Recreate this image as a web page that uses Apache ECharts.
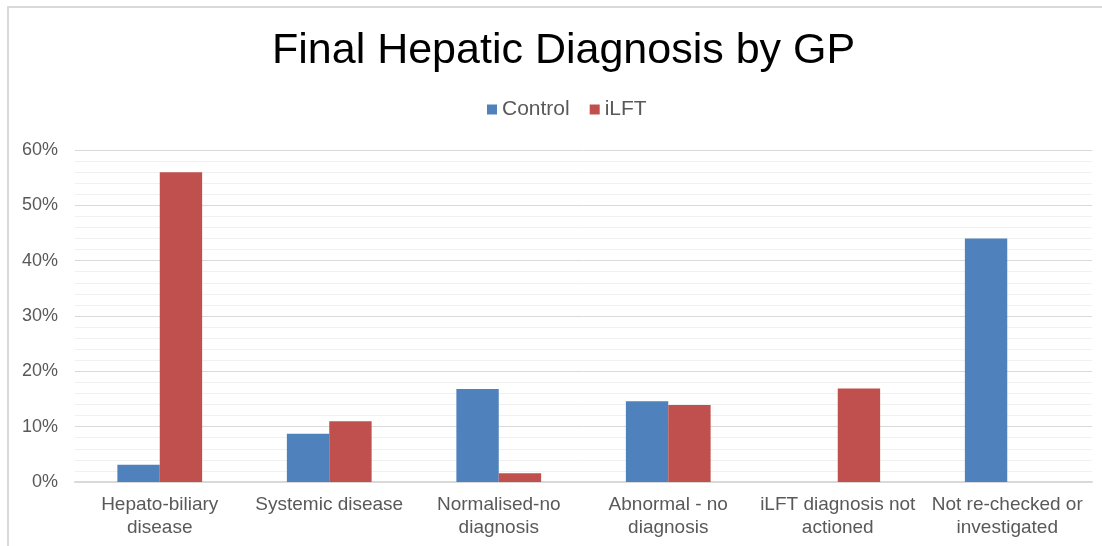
<!DOCTYPE html>
<html>
<head>
<meta charset="utf-8">
<script src="https://cdn.jsdelivr.net/npm/echarts@6/dist/echarts.min.js"></script>
<style>
  html, body { margin: 0; padding: 0; background: #fff; }
  #chart { width: 1102px; height: 546px; }
</style>
</head>
<body>
<div id="chart"></div>
<script>
const categories = [
  'Hepato-biliary\ndisease',
  'Systemic disease',
  'Normalised-no\ndiagnosis',
  'Abnormal - no\ndiagnosis',
  'iLFT diagnosis not\nactioned',
  'Not re-checked or\ninvestigated'
]
const controlValues = [3.1, 8.7, 16.8, 14.6, 0, 44.0]
const ilftValues = [56.0, 11.0, 1.6, 13.9, 16.9, 0]
const yTicks = [0, 10, 20, 30, 40, 50, 60]

const myChart = echarts.init(document.getElementById('chart'))

const font = 'Liberation Sans, Arial, sans-serif'

myChart.setOption({
  animation: false,
  textStyle: { fontFamily: font },
  graphic: [{
    type: 'rect',
    shape: { x: 8, y: 7, width: 1200, height: 600 },
    style: { fill: 'none', stroke: '#d9d9d9', lineWidth: 2 },
    silent: true
  }],
  // the original frame is wider than the crop, so title/legend sit right of page centre
  title: {
    text: 'Final Hepatic Diagnosis by GP',
    left: 267,
    top: 25,
    textStyle: { fontFamily: font, fontSize: 43, fontWeight: 'normal', color: '#000' }
  },
  legend: {
    top: 94,
    left: 482,
    itemWidth: 10,
    itemHeight: 10,
    itemGap: 20,
    icon: 'rect',
    textStyle: { fontFamily: font, fontSize: 21, color: '#595959' },
    data: ['Control', 'iLFT']
  },
  grid: { left: 75, right: 10, top: 150, bottom: 64, containLabel: false },
  xAxis: {
    type: 'category',
    data: categories,
    axisTick: { show: false },
    axisLine: { lineStyle: { color: '#d9d9d9', width: 2 } },
    axisLabel: {
      fontFamily: font, fontSize: 19, color: '#595959',
      lineHeight: 23, margin: 11, interval: 0
    }
  },
  yAxis: {
    type: 'value',
    min: yTicks[0],
    max: yTicks[yTicks.length - 1],
    interval: 10,
    axisLine: { show: false },
    axisTick: { show: false },
    axisLabel: {
      fontFamily: font, fontSize: 18, color: '#595959', margin: 17,
      formatter: v => v + '%'
    },
    splitLine: { lineStyle: { color: '#d9d9d9', width: 1 } },
    minorTick: { show: false, splitNumber: 5 },
    minorSplitLine: { show: true, lineStyle: { color: '#f0f0f0', width: 1 } }
  },
  series: [
    {
      name: 'Control',
      type: 'bar',
      data: controlValues,
      barGap: '0%',
      barCategoryGap: '50%',
      itemStyle: { color: '#4F81BD' }
    },
    {
      name: 'iLFT',
      type: 'bar',
      data: ilftValues,
      barGap: '0%',
      barCategoryGap: '50%',
      itemStyle: { color: '#C0504D' }
    }
  ]
})
</script>
</body>
</html>
